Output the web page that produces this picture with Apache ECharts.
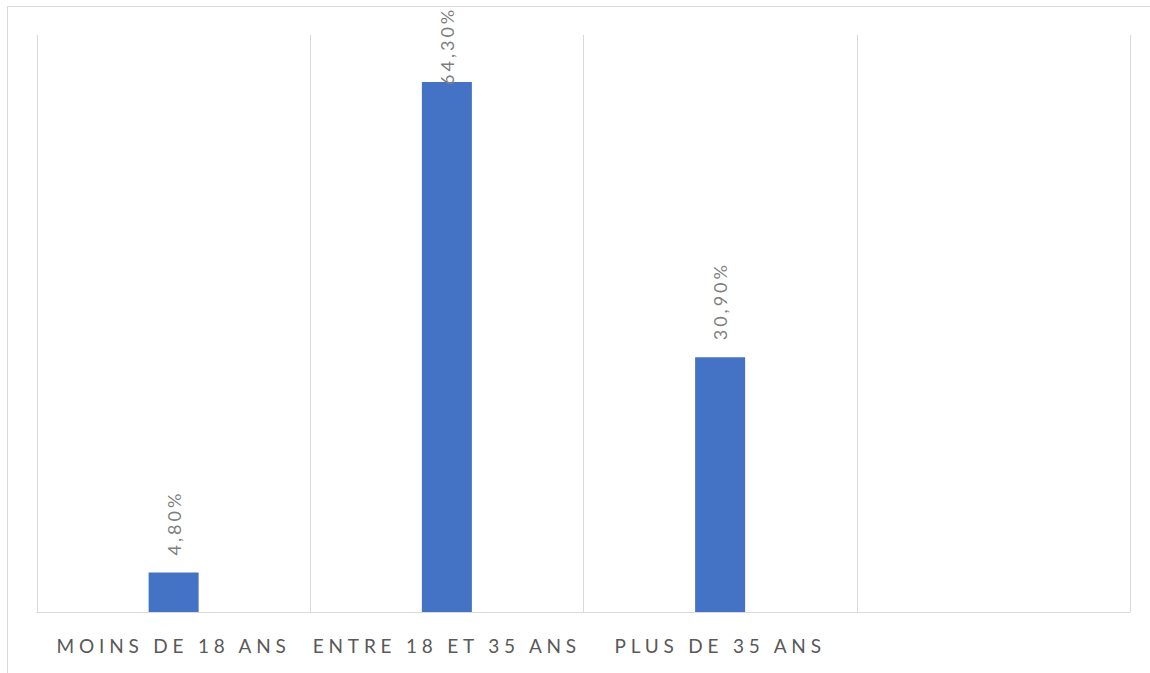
<!DOCTYPE html>
<html>
<head>
<meta charset="utf-8">
<script src="https://cdn.jsdelivr.net/npm/echarts@6/dist/echarts.min.js"></script>
<style>
  html, body { margin: 0; padding: 0; background: #fff; }
  #main { width: 1150px; height: 673px; }
</style>
</head>
<body>
<div id="main"></div>
<script>
// tranches d'age
var categories = ['MOINS DE 18 ANS', 'ENTRE 18 ET 35 ANS', 'PLUS DE 35 ANS', ''];
var values = [4.8, 64.3, 30.9, null];

var chart = echarts.init(document.getElementById('main'), null, {renderer: 'svg'});

var seriesData = [];
for (var i = 0; i < values.length; i++) {
    var item = {value: values[i]};
    // Excel a pousse l'etiquette du plus grand bar vers le bas
    if (values[i] === 64.3) {
        item.label = {distance: -3};
    }
    seriesData.push(item);
}

var option = {
    backgroundColor: '#fff',
    animation: false,
    graphic: [{
        type: 'rect',
        shape: {x: 7.5, y: 6.5, width: 1200, height: 800},
        style: {fill: 'none', stroke: '#d9d9d9', lineWidth: 1},
        silent: true
    }],
    grid: {
        left: 37,
        right: 20,
        top: 35,
        bottom: 61
    },
    xAxis: {
        type: 'category',
        data: categories,
        axisLine: {lineStyle: {color: '#d9d9d9', width: 1}},
        axisTick: {show: false},
        splitLine: {show: true, lineStyle: {color: '#d9d9d9', width: 1}},
        axisLabel: {
            color: '#595959',
            fontSize: 19,
            fontFamily: 'Lato',
            margin: 24,
            interval: 0
        }
    },
    yAxis: {
        type: 'value',
        min: 0,
        max: 70,
        show: false,
        splitLine: {show: false}
    },
    series: [{
        type: 'bar',
        data: seriesData,
        barWidth: 50,
        itemStyle: {color: '#4472C4'},
        label: {
            show: true,
            position: 'top',
            rotate: 90,
            align: 'left',
            verticalAlign: 'middle',
            distance: 17,
            color: '#7f7f7f',
            fontSize: 18,
            fontFamily: 'Lato',
            formatter: function (p) {
                if (p.value == null) return '';
                return p.value.toFixed(2).replace('.', ',') + '%';
            }
        }
    }]
};

chart.setOption(option);

// espacement des lettres comme dans Excel
var texts = document.querySelectorAll('#main text');
for (var t = 0; t < texts.length; t++) {
    var isPct = texts[t].textContent.indexOf('%') >= 0;
    texts[t].style.letterSpacing = isPct ? '3px' : '4.8px';
}
</script>
</body>
</html>
